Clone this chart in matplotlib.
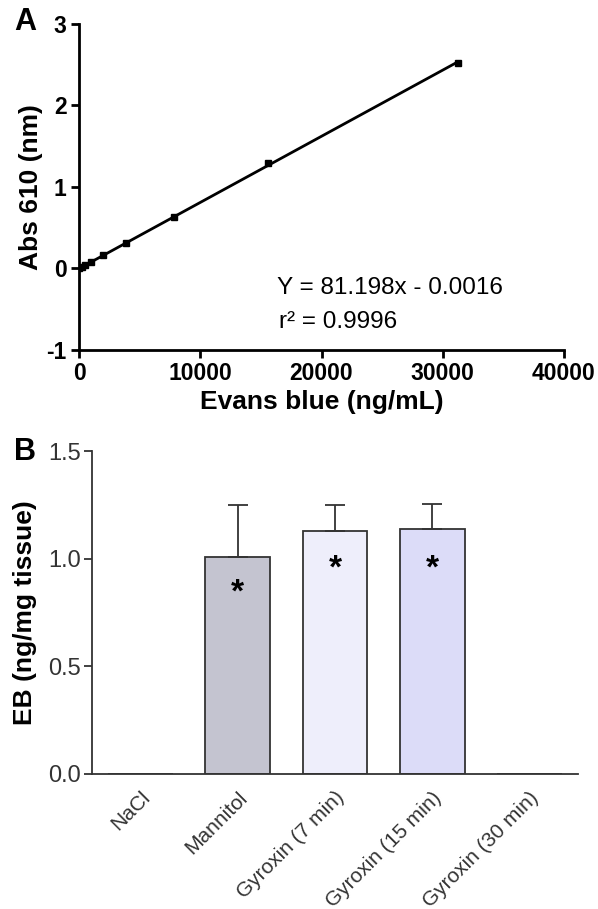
import matplotlib
matplotlib.use("Agg")
import matplotlib.pyplot as plt
import numpy as np

plt.rcParams['font.family'] = ['Liberation Sans', 'DejaVu Sans']
plt.rcParams['axes.unicode_minus'] = False

# Panel A: standard curve
conc = [0, 244, 488, 977, 1953, 3906, 7812, 15625, 31250]
absorb = [0.0, 0.02, 0.04, 0.08, 0.16, 0.31, 0.63, 1.30, 2.52]
slope = 81.198  # per mg/mL
intercept = -0.0016

# Panel B: bars
groups = ["NaCl", "Mannitol", "Gyroxin (7 min)", "Gyroxin (15 min)", "Gyroxin (30 min)"]
eb_mean = [0.0, 1.01, 1.13, 1.14, 0.0]
eb_err = [0.0, 0.24, 0.12, 0.115, 0.0]
bar_colors = ["#ffffff", "#c4c4d0", "#eeeefb", "#dcdcf8", "#ffffff"]
stars = [None, 0.84, 0.95, 0.95, None]

fig = plt.figure(figsize=(5.98, 9.09), dpi=100)

# ---------- Panel A ----------
axA = fig.add_axes([79/598, 1-350/909, (564-79)/598, (350-24)/909])
xs = np.array(conc, dtype=float)
axA.plot(xs, absorb, 's', color='black', markersize=4, zorder=3)
xline = np.array([0, max(conc)], dtype=float)
axA.plot(xline, slope*xline/1e6 + intercept, '-', color='black', lw=2, zorder=2)
axA.set_xlim(0, 40000)
axA.set_ylim(-1, 3)
axA.set_xticks([0, 10000, 20000, 30000, 40000])
axA.set_yticks([-1, 0, 1, 2, 3])
for s in ['top', 'right']:
    axA.spines[s].set_visible(False)
for s in ['left', 'bottom']:
    axA.spines[s].set_linewidth(2)
axA.tick_params(direction='out', length=6, width=2, labelsize=16.5, pad=3)
for lab in axA.get_xticklabels() + axA.get_yticklabels():
    lab.set_fontweight('bold')
axA.set_xlabel("Evans blue (ng/mL)", fontsize=19, fontweight='bold', labelpad=3)
axA.set_ylabel("Abs 610 (nm)", fontsize=19, fontweight='bold', labelpad=2)
axA.text(0.408, 0.19, "Y = 81.198x - 0.0016", transform=axA.transAxes, fontsize=17.5,
         va='center', ha='left')
axA.text(0.413, 0.085, "r² = 0.9996", transform=axA.transAxes, fontsize=17.5,
         va='center', ha='left')
fig.text(14/598, 1-22/909, "A", fontsize=22, fontweight='bold', va='center', ha='left')

# ---------- Panel B ----------
axB = fig.add_axes([92/598, 1-774/909, (578-92)/598, (774-451)/909])
xpos = np.arange(len(groups))
axB.bar(xpos, eb_mean, width=0.665, color=bar_colors, edgecolor='#333333',
        linewidth=1.3, zorder=2)
for i, (m, e) in enumerate(zip(eb_mean, eb_err)):
    if e > 0:
        axB.errorbar(xpos[i], m, yerr=[[0], [e]], fmt='none', ecolor='#333333',
                     elinewidth=1.3, capsize=7.5, capthick=1.3, zorder=3)
for i, s in enumerate(stars):
    if s is not None:
        axB.text(xpos[i], s, "*", fontsize=24, fontweight='bold', ha='center',
                 va='center', color='black')
axB.set_xlim(-0.5, 4.5)
axB.set_ylim(0, 1.5)
axB.set_yticks([0.0, 0.5, 1.0, 1.5])
axB.set_yticklabels(["0.0", "0.5", "1.0", "1.5"])
axB.set_xticks(xpos)
axB.set_xticklabels(groups, rotation=45, ha='right', rotation_mode='anchor', fontsize=15)
for s in ['top', 'right']:
    axB.spines[s].set_visible(False)
for s in ['left', 'bottom']:
    axB.spines[s].set_linewidth(1.3)
    axB.spines[s].set_color('#333333')
axB.tick_params(axis='y', direction='out', length=6, width=1.3, labelsize=17,
                colors='#333333', pad=2)
axB.tick_params(axis='x', length=0, pad=10, colors='#333333')
axB.set_ylabel("EB (ng/mg tissue)", fontsize=19, fontweight='bold', labelpad=8)
fig.text(14/598, 1-452/909, "B", fontsize=22, fontweight='bold', va='center', ha='left')

fig.savefig("out.png", dpi=100)
